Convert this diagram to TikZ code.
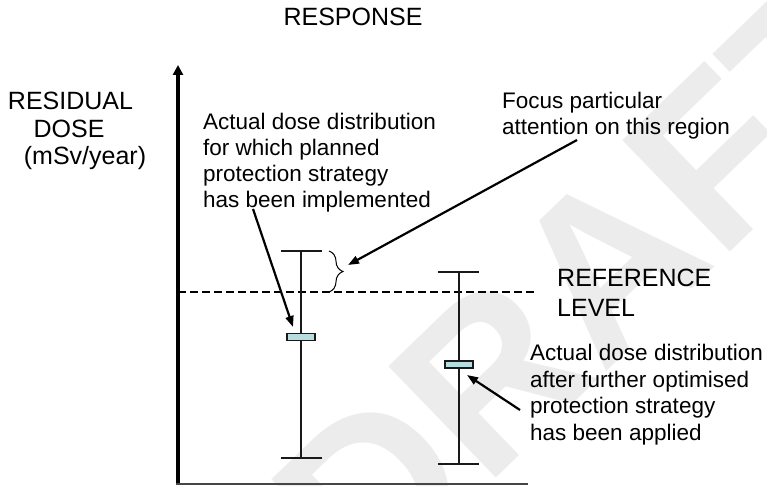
\documentclass[tikz,border=0pt]{standalone}
\usepackage{fontspec}
\setmainfont{Liberation Sans}
\usetikzlibrary{arrows.meta,decorations.pathreplacing}
\definecolor{boxfill}{RGB}{183,221,222}
\definecolor{wmark}{RGB}{236,236,236}
\definecolor{axisgray}{RGB}{70,70,70}
\tikzset{
  bodytext/.style={inner sep=0pt,anchor=north west,align=left,font=\fontsize{22.5}{26}\selectfont},
  capstext/.style={inner sep=0pt,font=\fontsize{25}{30}\selectfont},
  errbar/.style={line width=1.3pt,draw=black!90},
  meanbox/.style={draw=black!90,line width=1.2pt,fill=boxfill,minimum width=28pt,minimum height=7pt,inner sep=0pt},
  pointer/.style={line width=2.2pt,-{Triangle[length=11pt,width=8pt]}},
}
\begin{document}
\begin{tikzpicture}[x=1pt,y=-1pt]
\useasboundingbox (0,0) rectangle (767,486);
% watermark
\node[text=wmark,font=\fontsize{225}{225}\bfseries\selectfont,rotate=44,inner sep=0pt] (wm) at (589,281) {DRAFT};
% axes
\coordinate (o) at (178,484);
\coordinate (ytop) at (178,65);
\coordinate (xend) at (528,484);
\draw[line width=4pt,-{Triangle[length=10pt,width=10pt]}] (o) -- (ytop);
\draw[line width=2pt,draw=axisgray] ([xshift=-2pt]o) -- (xend);
% reference level
\coordinate (rl1) at (178,292);
\coordinate (rl2) at (537,292);
\draw[line width=2pt,dash pattern=on 8pt off 4pt] (rl1) -- (rl2);
% left error bar
\coordinate (lt) at (301,251);
\coordinate (lb) at (301,458);
\draw[errbar] (lt) -- (lb);
\draw[errbar] ([xshift=-20pt]lt) -- ([xshift=21pt]lt);
\draw[errbar] ([xshift=-20pt]lb) -- ([xshift=21pt]lb);
\node[meanbox] (lm) at (301,337) {};
% right error bar
\coordinate (rt) at (459,272);
\coordinate (rb) at (459,464);
\draw[errbar] (rt) -- (rb);
\draw[errbar] ([xshift=-21pt]rt) -- ([xshift=20pt]rt);
\draw[errbar] ([xshift=-21pt]rb) -- ([xshift=20pt]rb);
\node[meanbox] (rm) at (459,364.5) {};
% brace
\coordinate (b1) at (329,251);
\coordinate (b2) at (329,292);
\draw[line width=1pt,decorate,decoration={brace,amplitude=14pt}] (b1) -- (b2);
% texts
\node[capstext,anchor=base] (resp) at (353,26) {RESPONSE};
\node[capstext,anchor=base] (res1) at (70.5,110) {RESIDUAL};
\node[capstext,anchor=base] (res2) at (69,138) {DOSE};
\node[capstext,anchor=base] (res3) at (85,165) {(mSv/year)};
\node[bodytext] (tleft) at (203,113) {Actual dose distribution\\for which planned\\protection strategy\\has been implemented};
\node[bodytext] (tfocus) at (502,92) {Focus particular\\attention on this region};
\node[capstext,anchor=north west,align=left] (tref) at (557,269) {REFERENCE\\LEVEL};
\node[bodytext,font=\fontsize{22.5}{26.5}\selectfont] (tright) at (530,344) {Actual dose distribution\\after further optimised\\protection strategy\\has been applied};
% pointers
\coordinate (pl0) at (253,209);
\coordinate (pl1) at (293,327);
\coordinate (pf0) at (577,140);
\coordinate (pf1) at (348,265);
\coordinate (pr0) at (520,410);
\coordinate (pr1) at (467,375);
\draw[pointer] (pl0) -- (pl1);
\draw[pointer] (pf0) -- (pf1);
\draw[pointer] (pr0) -- (pr1);
\end{tikzpicture}
\end{document}
